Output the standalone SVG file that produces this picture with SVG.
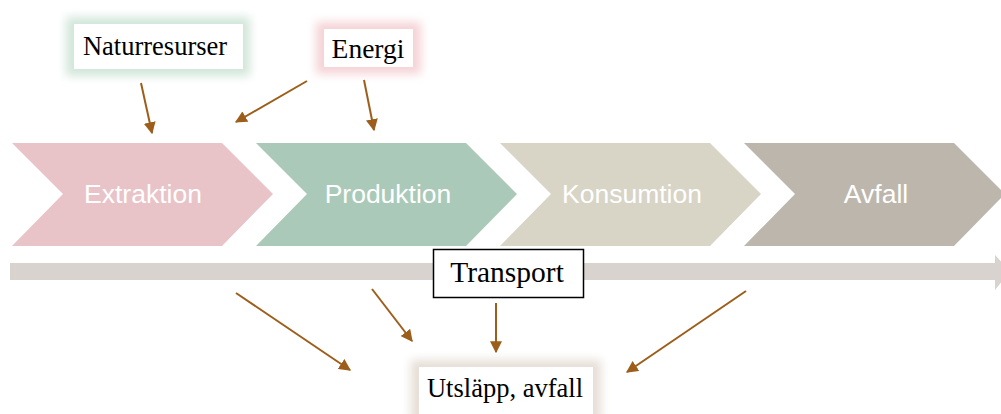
<svg xmlns="http://www.w3.org/2000/svg" width="1001" height="414" viewBox="0 0 1001 414">
<style>
.chev-t{font-family:"Liberation Sans",Arial,sans-serif;font-size:26.5px;fill:#ffffff;text-anchor:middle;dominant-baseline:central}
.lbl{font-family:"Liberation Serif","Times New Roman",serif;font-size:26.5px;fill:#000;text-anchor:middle;dominant-baseline:central}
.box{fill:#ffffff}
.conn{stroke:#9C5E1A;stroke-width:2;fill:none;marker-end:url(#ah)}
</style>
<defs>
<marker id="ah" viewBox="0 0 10 10" refX="9" refY="5" markerWidth="12" markerHeight="12" markerUnits="userSpaceOnUse" orient="auto"><path d="M0,0 L10,5 L0,10 z" fill="#9C5E1A"/></marker>
<filter id="glow" x="-30%" y="-50%" width="160%" height="200%"><feGaussianBlur stdDeviation="5"/></filter>
</defs>
<rect width="1001" height="414" fill="#ffffff"/>
<g id="extraktion"><polygon points="12,143 222,143 273,194 222,246 12,246 63,194" fill="#E8C4C8"/><text class="chev-t" x="143" y="194">Extraktion</text></g>
<g id="produktion"><polygon points="256,143 466,143 517,194 466,246 256,246 307,194" fill="#ABC9B8"/><text class="chev-t" x="388" y="194">Produktion</text></g>
<g id="konsumtion"><polygon points="500,143 710,143 761,194 710,246 500,246 551,194" fill="#D8D4C6"/><text class="chev-t" x="632" y="194">Konsumtion</text></g>
<g id="avfall"><polygon points="744,143 954,143 1005,194 954,246 744,246 795,194" fill="#BDB6AD"/><text class="chev-t" x="876" y="194">Avfall</text></g>
<g id="transportbar"><polygon points="10,263 995,263 995,255 1010,271 995,290 995,280 10,280" fill="#D8D3CF"/></g>
<g id="naturresurser"><rect x="66" y="17" width="184" height="59" fill="#D2E6DA" filter="url(#glow)"/><rect class="box" x="74" y="24" width="169" height="45"/><text class="lbl" x="155" y="46">Naturresurser</text></g>
<g id="energi"><rect x="316" y="22" width="105" height="52" fill="#F5D3D6" filter="url(#glow)"/><rect class="box" x="324" y="29" width="89" height="38"/><text class="lbl" x="368" y="48" style="font-size:27.5px">Energi</text></g>
<g id="transport"><rect x="433.5" y="249.5" width="150" height="48" fill="#ffffff" stroke="#000" stroke-width="1.5"/><text class="lbl" x="507" y="272" style="font-size:29.5px">Transport</text></g>
<g id="utslapp"><rect x="411" y="360" width="190" height="62" fill="#E6DED6" filter="url(#glow)"/><rect class="box" x="419" y="367" width="174" height="47"/><text class="lbl" x="505" y="388">Utsläpp, avfall</text></g>
<g id="connectors">
<line class="conn" x1="141" y1="83" x2="152" y2="133"/>
<line class="conn" x1="307" y1="81" x2="236" y2="122"/>
<line class="conn" x1="364" y1="80" x2="374" y2="130"/>
<line class="conn" x1="236" y1="293" x2="350" y2="370"/>
<line class="conn" x1="372" y1="289" x2="412" y2="341"/>
<line class="conn" x1="496" y1="303" x2="496" y2="352"/>
<line class="conn" x1="746" y1="291" x2="627" y2="372"/>
</g>
</svg>
